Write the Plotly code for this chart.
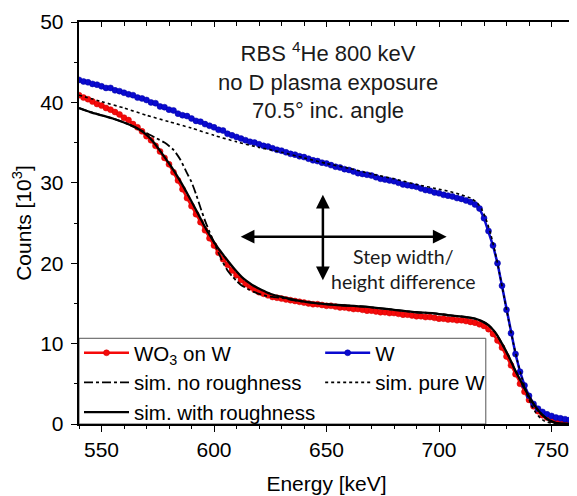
import plotly.graph_objects as go

# ---------------- data ----------------
E_data = list(range(540, 761, 2))

counts_W = [
    42.8, 42.6, 42.5, 42.3, 42.2, 42.0, 41.8, 41.8, 41.5, 41.4,
    41.2, 41.0, 40.9, 40.6, 40.5, 40.3, 40.0, 39.9, 39.5, 39.4,
    39.1, 39.0, 38.6, 38.4, 38.3, 38.0, 37.7, 37.6, 37.3, 37.1,
    36.9, 36.6, 36.5, 36.1, 35.9, 35.7, 35.5, 35.3, 35.1, 35.0,
    34.8, 34.6, 34.5, 34.3, 34.1, 34.0, 33.8, 33.6, 33.5, 33.3,
    33.2, 33.0, 32.8, 32.7, 32.5, 32.4, 32.2, 32.0, 31.9, 31.7,
    31.6, 31.4, 31.2, 31.1, 31.0, 30.9, 30.7, 30.5, 30.4, 30.3,
    30.2, 30.0, 29.8, 29.7, 29.6, 29.5, 29.3, 29.1, 29.0, 28.8,
    28.7, 28.5, 28.4, 28.3, 28.1, 28.0, 27.8, 27.6, 27.3, 26.8,
    25.6, 24.0, 22.2, 20.0, 17.2, 14.2, 11.3, 8.7, 6.5, 4.8,
    3.5, 2.5, 1.9, 1.5, 1.2, 1.0, 0.8, 0.7, 0.6, 0.5,
    0.45,
]

counts_WO3 = [
    40.9, 40.6, 40.4, 40.1, 39.8, 39.6, 39.3, 39.1, 38.8, 38.5,
    38.1, 37.8, 37.3, 36.9, 36.4, 35.8, 35.3, 34.6, 33.9, 33.1,
    32.3, 31.3, 30.3, 29.2, 28.1, 27.1, 26.1, 25.1, 24.1, 23.1,
    22.2, 21.3, 20.5, 19.8, 19.1, 18.5, 17.9, 17.4, 17.0, 16.7,
    16.4, 16.2, 16.0, 15.8, 15.7, 15.6, 15.5, 15.4, 15.3, 15.2,
    15.1, 15.0, 14.9, 14.9, 14.8, 14.7, 14.7, 14.6, 14.5, 14.5,
    14.4, 14.3, 14.3, 14.2, 14.1, 14.1, 14.0, 13.9, 13.9, 13.8,
    13.8, 13.7, 13.6, 13.6, 13.5, 13.4, 13.4, 13.3, 13.3, 13.2,
    13.1, 13.1, 13.0, 13.0, 12.9, 12.9, 12.8, 12.7, 12.6, 12.4,
    12.2, 11.8, 11.2, 10.4, 9.5, 8.4, 7.3, 6.2, 5.0, 4.0,
    3.0, 2.2, 1.6, 1.1, 0.8, 0.6, 0.45, 0.4, 0.35, 0.3,
    0.3,
]

E_rough = [540, 545, 550, 555, 560, 565, 569, 573, 577, 581, 585, 589, 593, 597,
           601, 605, 609, 613, 617, 621, 625, 630, 638, 646, 655, 667, 680, 690,
           697, 705, 712, 716, 719, 722, 725, 728, 731, 734, 737, 740, 743, 746,
           749, 752, 756, 760]
sim_rough = [39.3, 38.8, 38.4, 38.0, 37.5, 36.9, 36.2, 35.1, 33.6, 32.0, 30.2, 28.2,
             26.1, 24.0, 22.2, 20.7, 19.3, 18.1, 17.3, 16.7, 16.2, 15.8, 15.3, 15.0,
             14.8, 14.6, 14.2, 13.9, 13.8, 13.5, 13.3, 13.1, 12.8, 12.3, 11.4, 10.0,
             8.4, 6.6, 5.0, 3.4, 2.1, 1.1, 0.45, 0.15, 0.03, 0.0]

E_norough = [540, 545, 550, 555, 560, 565, 570, 574, 578, 582, 585, 588, 590, 592,
             594, 596, 598, 600, 602, 604, 606, 608, 610, 612, 615, 618, 622, 626,
             630, 635, 640, 646, 655, 667, 680, 690, 697, 705, 712, 716, 719, 722,
             725, 728, 731, 734, 737, 740, 743, 746, 749, 752, 756, 760]
sim_norough = [39.3, 38.8, 38.4, 38.0, 37.5, 36.9, 36.2, 35.6, 35.0, 34.1, 32.9, 31.2,
               30.1, 28.6, 26.9, 25.3, 23.9, 22.6, 21.3, 20.1, 19.1, 18.4, 17.8, 17.3,
               16.8, 16.4, 16.0, 15.8, 15.7, 15.4, 15.2, 15.0, 14.8, 14.6, 14.2, 13.9,
               13.8, 13.5, 13.3, 13.1, 12.8, 12.3, 11.4, 10.0, 8.4, 6.6, 5.0, 3.4,
               2.1, 1.1, 0.45, 0.15, 0.03, 0.0]

E_pureW = [540, 550, 560, 570, 580, 590, 600, 610, 620, 630, 640, 650, 660, 670,
           680, 690, 700, 705, 710, 714, 717, 719, 721, 723, 725, 727, 729, 731,
           733, 735, 737, 739, 741, 743, 745, 747, 750, 755, 760]
sim_pureW = [40.9, 40.1, 39.3, 38.4, 37.6, 36.8, 35.9, 35.1, 34.4, 33.8, 33.1, 32.4,
             31.8, 31.1, 30.5, 29.8, 29.2, 28.9, 28.5, 28.1, 27.5, 26.7, 25.4, 23.6,
             21.3, 18.6, 15.7, 12.8, 10.1, 7.7, 5.6, 3.8, 2.4, 1.4, 0.75, 0.35, 0.12,
             0.02, 0.0]

x_ticks = [550, 600, 650, 700, 750]
y_ticks = [0, 10, 20, 30, 40, 50]

assert len(E_data) == len(counts_W) == len(counts_WO3)
assert len(E_rough) == len(sim_rough)
assert len(E_norough) == len(sim_norough)
assert len(E_pureW) == len(sim_pureW)

FONT = "Arial, 'Liberation Sans', sans-serif"
RED = "#f50a0a"
BLUE = "#0a0ad0"

fig = go.Figure()

fig.add_trace(go.Scatter(
    x=E_data, y=counts_WO3, mode="lines+markers", name="WO<sub>3</sub> on W",
    line=dict(color=RED, width=2.5), marker=dict(color=RED, size=6,
    line=dict(color="#d00000", width=0.5))))
fig.add_trace(go.Scatter(
    x=E_data, y=counts_W, mode="lines+markers", name="W",
    line=dict(color=BLUE, width=2.5), marker=dict(color=BLUE, size=6,
    line=dict(color="#0000a0", width=0.5))))
fig.add_trace(go.Scatter(
    x=E_norough, y=sim_norough, mode="lines", name="sim. no roughness",
    line=dict(color="black", width=1.8, dash="dashdot", shape="spline", smoothing=0.6)))
fig.add_trace(go.Scatter(
    x=E_pureW, y=sim_pureW, mode="lines", name="sim. pure W",
    line=dict(color="black", width=1.6, dash="dot", shape="spline", smoothing=0.6)))
fig.add_trace(go.Scatter(
    x=E_rough, y=sim_rough, mode="lines", name="sim. with roughness",
    line=dict(color="black", width=2.3, shape="spline", smoothing=0.6)))

# invisible trace to host the mirrored (inside) tick axes
fig.add_trace(go.Scatter(x=[540], y=[0], xaxis="x2", yaxis="y2", mode="markers",
                         marker=dict(opacity=0), showlegend=False, hoverinfo="skip"))

tickfont = dict(family=FONT, size=21, color="black")

# page body has an 8px margin: figure is shrunk/offset so that the plot area
# lands at the same window pixels as the reference
fig.update_layout(
    width=569, height=488,
    margin=dict(l=71, r=1, t=14, b=72),
    plot_bgcolor="white", paper_bgcolor="white",
    font=dict(family=FONT, size=21, color="black"),
    showlegend=True,
    legend=dict(
        orientation="h", x=0, y=0.2265, xanchor="left", yanchor="top",
        bgcolor="rgba(0,0,0,0)", borderwidth=0, itemwidth=45,
        font=dict(family=FONT, size=20.5, color="black"),
        tracegroupgap=0, traceorder="normal",
    ),
    xaxis=dict(
        range=[540, 760], tickmode="array", tickvals=x_ticks,
        ticks="outside", ticklen=6, tickwidth=1.3, tickcolor="black",
        showline=True, linecolor="black", linewidth=1.5, mirror=True,
        showgrid=False, zeroline=False, tickfont=tickfont,
        minor=dict(dtick=10, tick0=540, ticks="outside", ticklen=3.5,
                   tickwidth=1.2, tickcolor="black", showgrid=False),
        title=dict(text="Energy [keV]", font=dict(family=FONT, size=21), standoff=16),
    ),
    yaxis=dict(
        range=[0, 50], tickmode="array", tickvals=y_ticks,
        ticks="outside", ticklen=6.5, tickwidth=1.3, tickcolor="black",
        showline=True, linecolor="black", linewidth=1.5, mirror=True,
        showgrid=False, zeroline=False, tickfont=tickfont, ticklabelstandoff=3,
        minor=dict(dtick=5, tick0=0, ticks="outside", ticklen=3.5,
                   tickwidth=1.2, tickcolor="black", showgrid=False),
        title=dict(text="Counts [10<sup>3</sup>]", font=dict(family=FONT, size=21), standoff=3),
    ),
    xaxis2=dict(
        overlaying="x", side="top", anchor="y2", range=[540, 760],
        tickmode="array", tickvals=x_ticks, ticks="inside", ticklen=5,
        tickwidth=1.3, tickcolor="black", showticklabels=False,
        showline=False, showgrid=False, zeroline=False,
        minor=dict(dtick=10, tick0=540, ticks="inside", ticklen=3.5,
                   tickwidth=1.2, tickcolor="black", showgrid=False),
    ),
    yaxis2=dict(
        overlaying="y", side="right", anchor="x2", range=[0, 50],
        tickmode="array", tickvals=y_ticks, ticks="inside", ticklen=5,
        tickwidth=1.3, tickcolor="black", showticklabels=False,
        showline=False, showgrid=False, zeroline=False,
        minor=dict(dtick=5, tick0=0, ticks="inside", ticklen=3.5,
                   tickwidth=1.2, tickcolor="black", showgrid=False),
    ),
)

# legend frame
fig.add_shape(type="rect", xref="x", yref="y", x0=540, x1=720.8, y0=0, y1=10.66,
              line=dict(color="#555555", width=1), fillcolor="white", layer="below")

# info text
fig.add_annotation(
    x=650.6, y=42.7, xref="x", yref="y", showarrow=False,
    text="RBS <sup>4</sup>He 800 keV<br>no D plasma exposure<br>70.5° inc. angle",
    font=dict(family=FONT, size=22, color="#1a1a1a"), align="center",
    xanchor="center", yanchor="middle")

# step arrows
fig.add_annotation(x=703.4, y=23.3, ax=611.2, ay=23.3, xref="x", yref="y",
                   axref="x", ayref="y", text="", showarrow=True, arrowhead=2,
                   arrowside="end+start", arrowwidth=2.5, arrowsize=1.1,
                   arrowcolor="black", standoff=0, startstandoff=0)
fig.add_annotation(x=648.4, y=28.5, ax=648.4, ay=17.7, xref="x", yref="y",
                   axref="x", ayref="y", text="", showarrow=True, arrowhead=2,
                   arrowside="end+start", arrowwidth=2.5, arrowsize=1.1,
                   arrowcolor="black", standoff=0, startstandoff=0)
fig.add_annotation(
    x=684.2, y=19.3, xref="x", yref="y", showarrow=False,
    text="Step width/<br>height difference",
    font=dict(family="Lato, 'Open Sans', sans-serif", size=19.5, color="#1a1a1a"),
    align="center", xanchor="center", yanchor="middle")

fig.write_html("out.html")
